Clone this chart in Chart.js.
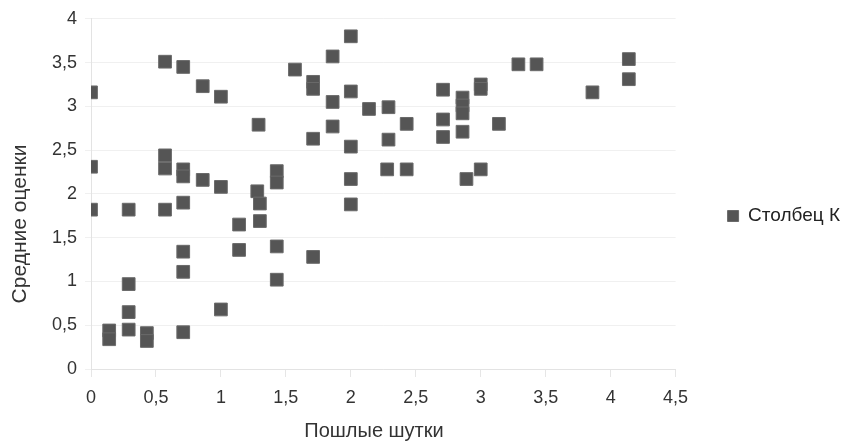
<!DOCTYPE html>
<html>
<head>
<meta charset="utf-8">
<script src="https://cdn.jsdelivr.net/npm/chart.js@4/dist/chart.umd.min.js"></script>
<style>
html,body{margin:0;padding:0;background:#fff;}
#wrap{width:846px;height:441px;}
</style>
</head>
<body>
<div id="wrap"><canvas id="c" width="846" height="441"></canvas></div>
<script>
const seriesName = 'Столбец К';
const xTitle = 'Пошлые шутки';
const yTitle = 'Средние оценки';
const xTickLabels = ['0','0,5','1','1,5','2','2,5','3','3,5','4','4,5'];
const yTickLabels = ['0','0,5','1','1,5','2','2,5','3','3,5','4'];
const xVals = [
  0,0,0,
  0.14,0.14,
  0.29,0.29,0.29,0.29,
  0.43,0.43,
  0.57,0.57,0.57,0.57,
  0.71,0.71,0.71,0.71,0.71,0.71,0.71,
  0.86,0.86,
  1.0,1.0,1.0,
  1.14,1.14,
  1.29,1.28,1.30,1.30,
  1.43,1.43,1.43,1.43,
  1.57,
  1.71,1.71,1.71,1.71,
  1.86,1.86,1.86,
  2.0,2.0,2.0,2.0,2.0,
  2.14,
  2.29,2.29,2.28,
  2.43,2.43,
  2.71,2.71,2.71,
  2.86,2.86,2.86,2.86,
  2.89,
  3.0,3.0,3.0,
  3.14,
  3.29,
  3.43,
  3.86,
  4.14,4.14
];
const yVals = [
  3.16,2.31,1.82,
  0.44,0.34,
  1.82,0.97,0.65,0.45,
  0.41,0.32,
  3.51,2.44,2.29,1.82,
  3.45,2.28,2.20,1.90,1.34,1.11,0.42,
  3.23,2.16,
  3.11,2.08,0.68,
  1.65,1.36,
  2.79,2.03,1.89,1.69,
  2.26,2.13,1.40,1.02,
  3.42,
  3.28,3.20,2.63,1.28,
  3.57,3.05,2.77,
  3.80,3.17,2.54,2.17,1.88,
  2.97,
  2.99,2.62,2.28,
  2.80,2.28,
  3.19,2.85,2.65,
  3.10,3.01,2.92,2.71,
  2.17,
  3.25,3.20,2.28,
  2.80,
  3.48,
  3.48,
  3.16,
  3.54,3.31
];
const points = xVals.map((x, i) => ({x: x, y: yVals[i]}));

const FONT = '"Liberation Sans", Arial, sans-serif';

const titlesPlugin = {
  id: 'axisTitles',
  afterDraw(chart) {
    const ctx = chart.ctx;
    ctx.save();
    ctx.fillStyle = '#333';
    ctx.textAlign = 'center';
    ctx.textBaseline = 'middle';
    ctx.font = '20px ' + FONT;
    ctx.fillText(xTitle, 374, 431);
    ctx.font = '21px ' + FONT;
    ctx.translate(20, 224);
    ctx.rotate(-Math.PI / 2);
    ctx.fillText(yTitle, 0, 0);
    ctx.restore();
  }
};

new Chart(document.getElementById('c'), {
  type: 'scatter',
  data: {
    datasets: [{
      label: seriesName,
      data: points,
      pointStyle: 'rect',
      pointRadius: 9,
      pointHoverRadius: 9,
      backgroundColor: '#555555',
      borderColor: '#6a6a6a',
      borderWidth: 1
    }]
  },
  plugins: [titlesPlugin],
  options: {
    responsive: false,
    animation: false,
    devicePixelRatio: 1,
    layout: { padding: { top: 17, right: -4, bottom: 26, left: 0 } },
    plugins: {
      tooltip: { enabled: false },
      legend: {
        position: 'right',
        labels: {
          boxWidth: 11,
          boxHeight: 11,
          padding: 52,
          color: '#222',
          font: { size: 19, family: FONT }
        }
      }
    },
    scales: {
      x: {
        type: 'linear',
        min: 0,
        max: 4.5,
        afterFit(s) { s.height = 46; },
        ticks: {
          stepSize: 0.5,
          padding: 10,
          color: '#333',
          font: { size: 18, family: FONT },
          callback: (v) => xTickLabels[Math.round(v / 0.5)]
        },
        grid: { drawOnChartArea: false, drawTicks: true, tickLength: 8, color: '#e6e6e6' },
        border: { color: '#e3e3e3' }
      },
      y: {
        type: 'linear',
        min: 0,
        max: 4,
        afterFit(s) { s.width = 91; },
        ticks: {
          stepSize: 0.5,
          padding: 8,
          color: '#333',
          font: { size: 18, family: FONT },
          callback: (v) => yTickLabels[Math.round(v / 0.5)]
        },
        grid: { color: '#f0f0f0', tickLength: 6 },
        border: { color: '#e3e3e3' }
      }
    }
  }
});
</script>
</body>
</html>
